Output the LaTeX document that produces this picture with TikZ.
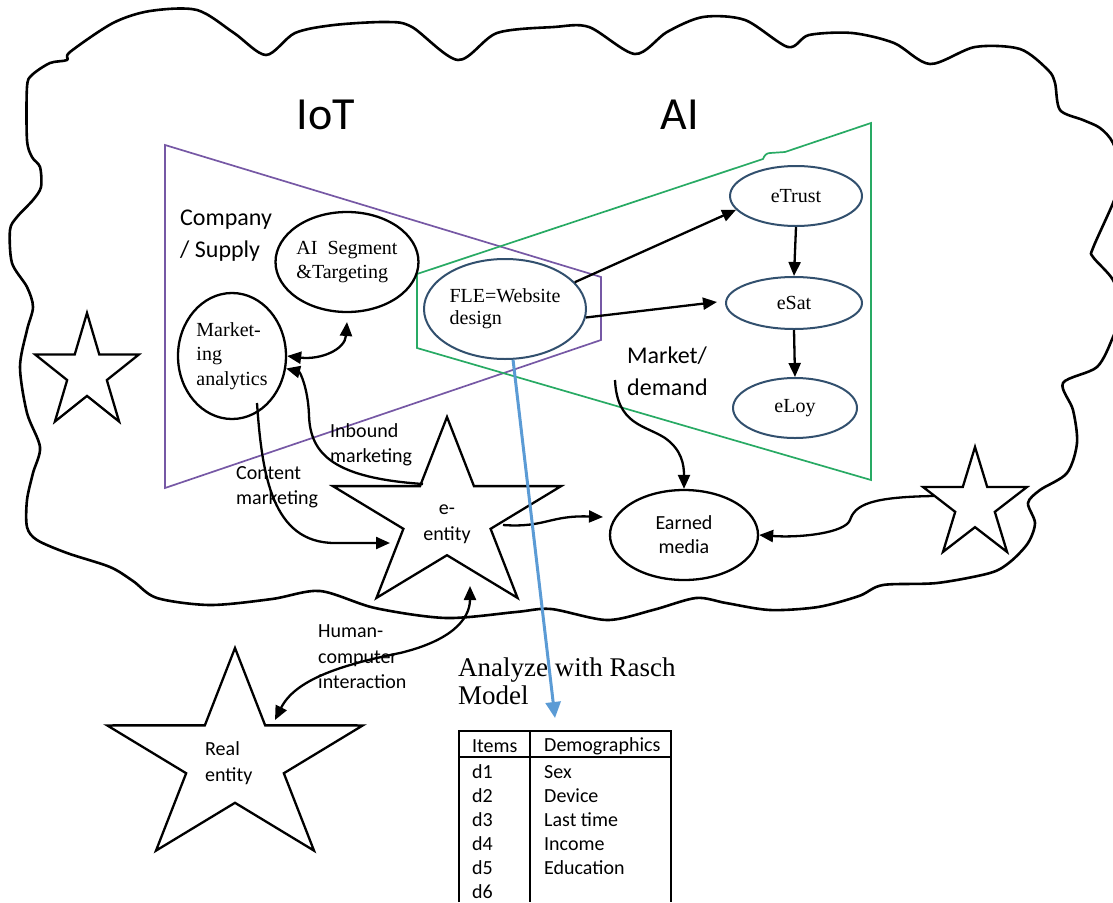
\documentclass[tikz,border=0pt]{standalone}
\usepackage{fontspec}
\setmainfont{Liberation Serif}
\newfontfamily\calib{Carlito}
\usetikzlibrary{arrows.meta,shapes.geometric}
\definecolor{purp}{RGB}{118,88,165}
\definecolor{grn}{RGB}{40,170,100}
\definecolor{ellblue}{RGB}{50,80,110}
\definecolor{bluearr}{RGB}{91,155,213}
\newcommand\drawstar[4]{%
  \draw[starline] plot[samples at={0,...,9}]
    ({#1+#4*((mod(\x,2)==0) ? #3 : 0.382*#3)*sin(36*\x)},
     {#2-((mod(\x,2)==0) ? #3 : 0.382*#3)*cos(36*\x)}) -- cycle;}
\begin{document}
\begin{tikzpicture}[x=1pt,y=-1pt,
  cloudline/.style={line width=2.6pt, line join=round},
  starline/.style={draw, line width=2.3pt, line join=miter},
  purpline/.style={draw=purp, line width=1.7pt},
  grnline/.style={draw=grn, line width=1.7pt},
  bell/.style={ellipse, draw, line width=2.3pt, inner sep=0pt, align=left,
    font=\fontsize{20}{24.5}\selectfont},
  blell/.style={bell, draw=ellblue, line width=2pt},
  conn/.style={line width=2.3pt, -{Triangle[length=14pt,width=12pt]}},
  dconn/.style={line width=2.3pt, {Triangle[length=14pt,width=12pt]}-{Triangle[length=14pt,width=12pt]}},
  clab/.style={font=\calib\fontsize{20}{25.5}\selectfont, align=left, inner sep=0pt, anchor=west},
  biglab/.style={font=\calib\fontsize{24}{32}\selectfont, align=left, inner sep=0pt, anchor=west},
  titlab/.style={font=\calib\fontsize{46}{50}\selectfont, inner sep=0pt},
  tcell/.style={font=\calib\fontsize{20}{24}\selectfont, inner sep=0pt, anchor=west},
  tline/.style={line width=1.3pt}
]
\useasboundingbox (0,0) rectangle (1113,902);

% cloud
\draw[cloudline] plot[smooth cycle, tension=0.5] coordinates {
(17,217) (33,200) (41,187) (40,167) (32,157) (27,140) (27,87) (32,75) (50,63) (67,60) (70,52)
(113,23) (150,11) (197,10) (234,33) (266,55) (295,33) (334,25) (387,22) (412,27) (458,60)
(497,33) (554,27) (589,27) (635,54) (667,32) (703,17) (745,20) (788,47) (809,35) (852,33)
(894,43) (930,64) (975,47) (1020,49) (1048,70) (1055,83) (1060,110) (1083,120) (1100,128)
(1113,143) (1122,175) (1113,203) (1093,248) (1093,257) (1113,280) (1122,310) (1113,337)
(1097,367) (1063,383) (1073,410) (1077,443) (1067,473) (1040,490) (1028,503) (1035,523)
(1028,543) (1010,562) (990,573) (937,583) (883,585) (859,596) (818,607) (770,610) (726,603)
(696,598) (653,610) (607,620) (551,609) (516,612) (446,618) (375,608) (320,591) (272,599)
(210,605) (157,598) (133,581) (110,567) (67,553) (37,540) (27,527) (27,500) (33,473) (40,447)
(27,413) (20,367) (27,330) (33,307) (27,287) (12,263) (10,230)};

% titles
\node[titlab] (iot) at (326,115) {IoT};
\node[titlab] (ai) at (680,115) {AI};

% funnels
\draw[purpline] (165,145) -- (601,277) -- (601,340) -- (165,488) -- cycle;
\draw[grnline] (417,348) -- (417,274) -- (763,159) to[out=70,in=180] (770,153) -- (785,152)
  -- (871,123) -- (871,480) -- cycle;

% ellipses
\node[bell, minimum width=142pt, minimum height=100pt] (aiseg) at (347,262) {AI\ \ Segment\\\&Targeting};
\node[bell, minimum width=108pt, minimum height=126pt] (mana) at (232,356) {Market-\\ing\\analytics};
\node[blell, minimum width=162pt, minimum height=100pt, font=\fontsize{20}{22}\selectfont] (fle) at (505,309) {FLE=Website\\design};
\node[blell, minimum width=132pt, minimum height=60pt] (etrust) at (796,196) {eTrust};
\node[blell, minimum width=136pt, minimum height=52pt] (esat) at (794,303) {eSat};
\node[blell, minimum width=124pt, minimum height=60pt] (eloy) at (795,408) {eLoy};
\node[bell, align=center, minimum width=148pt, minimum height=90pt,
  font=\calib\fontsize{20}{24}\selectfont] (em) at (684,535) {Earned\\media};

% stars
\drawstar{447}{517}{100}{1.2}
\drawstar{87}{373}{60}{0.91}
\drawstar{975}{505}{58}{0.94}
\drawstar{235}{760}{112}{1.2}
\node[font=\calib\fontsize{20}{26}\selectfont, align=center, inner sep=0pt] (eentity) at (447,524) {e-\\entity};
\node[clab] (real) at (205,763) {Real\\entity};
\coordinate (starL) at (87,373);
\coordinate (starR) at (975,505);

% labels
\node[biglab] (comp) at (180,236) {Company\\/ Supply};
\node[biglab] (mkt) at (627,371) {Market/\\demand};
\node[clab] (inb) at (330,445) {Inbound\\marketing};
\node[clab] (cont) at (236,487) {Content\\marketing};
\node[clab] (hci) at (318,657) {Human-\\computer\\interaction};
\node[font=\fontsize{27}{28}\selectfont, align=left, inner sep=0pt, anchor=west] (rasch) at (458,681) {Analyze with Rasch\\Model};

% connector end points
\coordinate (inbS) at (423,484);
\coordinate (contS) at (257,403);
\coordinate (contE) at (390,543);
\coordinate (eeR) at (503,525);
\coordinate (emW) at (603,517);
\coordinate (mdS) at (615,380);
\coordinate (starRL) at (934,496);
\coordinate (hciE) at (470,586);
\coordinate (hciR) at (275,720);
\coordinate (raschtip) at (555,718);
\coordinate (aisegB) at (347,322);
\coordinate (esatW) at (717,302);

% connectors
\draw[dconn] (mana.east) .. controls (320,360) and (345,350) .. (aisegB);
\draw[conn] (inbS) .. controls (335,478) and (310,455) .. (309,415) .. controls (308,388) and (300,372) .. (mana.-13);
\draw[conn] (contS) .. controls (262,475) and (272,543) .. (335,543) -- (contE);
\draw[conn] (eeR) .. controls (545,528) and (550,515) .. (emW);
\draw[conn] (mdS) .. controls (617,425) and (645,425) .. (665,438) .. controls (682,450) and (684,465) .. (em.north);
\draw[conn] (starRL) .. controls (870,497) and (855,505) .. (850,520) .. controls (845,533) and (800,538) .. (em.east);
\draw[conn] (fle.21) -- (etrust.193);
\draw[conn] (fle.-6) -- (esatW);
\draw[conn] (etrust.south) -- (esat.north);
\draw[conn] (esat.south) -- (eloy.north);
\draw[dconn] (hciR) .. controls (295,680) and (340,665) .. (400,653) .. controls (450,641) and (470,620) .. (hciE);
\draw[draw=bluearr, line width=3pt, -{Triangle[length=16pt,width=15pt]}] (fle.-81) -- (raschtip);

% table
\draw[tline] (459,902) -- (459,731) -- (671,731) -- (671,902);
\draw[tline] (459,757) -- (671,757);
\draw[tline] (530,731) -- (530,902);
\node[tcell] (th1) at (472,746) {Items};
\node[tcell] (th2) at (544,746) {Demographics};
\node[tcell] (d1) at (472,772) {d1};
\node[tcell] (d2) at (472,796) {d2};
\node[tcell] (d3) at (472,820) {d3};
\node[tcell] (d4) at (472,844) {d4};
\node[tcell] (d5) at (472,868) {d5};
\node[tcell] (d6) at (472,892) {d6};
\node[tcell] (v1) at (544,772) {Sex};
\node[tcell] (v2) at (544,796) {Device};
\node[tcell] (v3) at (544,820) {Last time};
\node[tcell] (v4) at (544,844) {Income};
\node[tcell] (v5) at (544,868) {Education};
\end{tikzpicture}
\end{document}
